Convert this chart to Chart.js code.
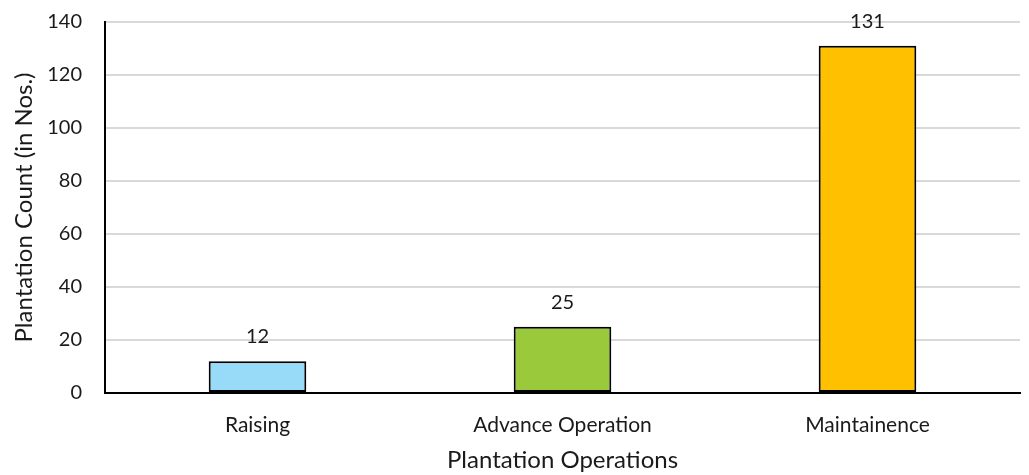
<!DOCTYPE html>
<html>
<head>
<meta charset="utf-8">
<script src="https://cdn.jsdelivr.net/npm/chart.js@4/dist/chart.umd.min.js"></script>
<style>
  html, body { margin: 0; padding: 0; background: #fff; }
  #wrap { width: 1029px; height: 475px; }
</style>
</head>
<body>
<div id="wrap"><canvas id="c" width="1029" height="475"></canvas></div>
<script>
const categories = ['Raising', 'Advance Operation', 'Maintainence'];
const counts = [12, 25, 131];
const barColors = ['#97DBF8', '#9ACA3C', '#FFC000'];
const yTicks = [0, 20, 40, 60, 80, 100, 120, 140];

const FONT = "Lato, 'Open Sans', 'Liberation Sans', sans-serif";
const TEXT = '#1a1a1a';

// Writes each bar's value above it
const valueLabels = {
  id: 'valueLabels',
  afterDatasetsDraw(chart) {
    const ctx = chart.ctx;
    const meta = chart.getDatasetMeta(0);
    ctx.save();
    ctx.font = '20px ' + FONT;
    ctx.fillStyle = TEXT;
    ctx.textAlign = 'center';
    ctx.textBaseline = 'alphabetic';
    meta.data.forEach((bar, i) => {
      ctx.fillText(String(counts[i]), bar.x, bar.y - 18);
    });
    ctx.restore();
  }
};

new Chart(document.getElementById('c'), {
  type: 'bar',
  data: {
    labels: categories,
    datasets: [{
      data: counts,
      backgroundColor: barColors,
      borderColor: '#000',
      borderWidth: 2,
      borderSkipped: false,
      categoryPercentage: 1,
      barPercentage: 0.32
    }]
  },
  options: {
    responsive: false,
    animation: false,
    layout: { padding: { top: 22, right: 9, left: 0, bottom: 0 } },
    plugins: { legend: { display: false }, tooltip: { enabled: false } },
    scales: {
      x: {
        afterFit(axis) { axis.height = 82; axis.paddingLeft = 0; axis.paddingRight = 0; },
        grid: { display: false, drawTicks: false },
        border: { color: '#000', width: 2 },
        ticks: { color: TEXT, font: { family: FONT, size: 21 }, padding: 20 },
        title: { display: true, text: 'Plantation Operations', color: TEXT,
                 font: { family: FONT, size: 24 }, padding: { top: 0, bottom: 0 } }
      },
      y: {
        min: 0, max: 140,
        afterFit(axis) { axis.width = 105; axis.paddingTop = 0; axis.paddingBottom = 0; },
        afterBuildTicks(axis) { axis.ticks = yTicks.map(v => ({ value: v })); },
        grid: { color: '#D9D9D9', lineWidth: 2, drawTicks: false },
        border: { color: '#000', width: 2 },
        ticks: { color: TEXT, font: { family: FONT, size: 20 }, padding: 23 },
        title: { display: true, text: 'Plantation Count (in Nos.)', color: TEXT,
                 font: { family: FONT, size: 24 }, padding: { top: 10, bottom: 0 } }
      }
    }
  },
  plugins: [valueLabels]
});
</script>
</body>
</html>
